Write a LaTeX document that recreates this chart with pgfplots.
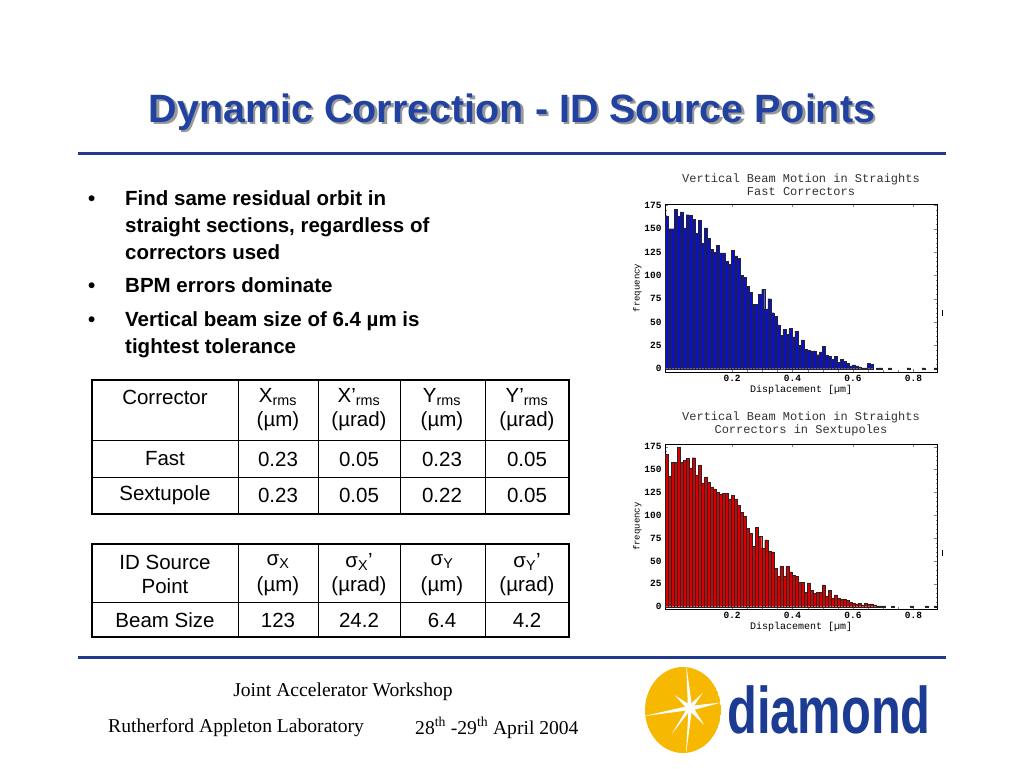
\documentclass[border=0pt]{standalone}
\usepackage{fontspec}
\setmainfont{Liberation Sans}
\setmonofont{Liberation Mono}
\newfontfamily\timesfont{Liberation Serif}
\usepackage{graphicx}
\usepackage{pgfplots}
\pgfplotsset{compat=1.18}

\definecolor{titleblue}{HTML}{2142A0}
\definecolor{rulecol}{HTML}{1F3A8F}
\definecolor{barblue}{HTML}{0A10C8}
\definecolor{barred}{HTML}{D80000}
\definecolor{logoyellow}{HTML}{F6B800}
\definecolor{logoblue}{HTML}{1C3C94}

\pgfplotsset{
  histo/.style={
    width=272pt, height=168pt, scale only axis,
    anchor=south west,
    xmin=-0.022, xmax=0.878,
    xtick={0.2,0.4,0.6,0.8}, ytick={0,25,...,175},
    minor x tick num=3, minor y tick num=4,
    tick align=inside,
    major tick length=3pt, minor tick length=1.5pt,
    axis line style={line width=0.8pt},
    /pgf/number format/assume math mode=true,
    tick label style={font=\ttfamily\bfseries\fontsize{9.5}{10}\selectfont},
    xlabel={Displacement [µm]},
    ylabel={frequency},
    xlabel style={font=\ttfamily\fontsize{10}{11}\selectfont, yshift=4pt},
    ylabel style={font=\ttfamily\fontsize{9}{10}\selectfont, yshift=-4pt},
    title style={align=center, text=black!80, font=\ttfamily\fontsize{12}{13}\selectfont, inner sep=2pt},
  },
}

\begin{document}
\begin{tikzpicture}[x=1pt,y=1pt]
\useasboundingbox[fill=white] (0,0) rectangle (1024,768);

% slide title with shadow
\node[text=black!40, font=\fontsize{39.5}{44}\selectfont\bfseries] at (514.5,653.5) {Dynamic Correction - ID Source Points};
\node[text=titleblue, font=\fontsize{39.5}{44}\selectfont\bfseries] at (512,656) {Dynamic Correction - ID Source Points};

\draw[rulecol, line width=3pt] (78,614) -- (946,614);
\draw[rulecol, line width=3pt] (78,111) -- (946,111);

% bullets
\begin{scope}[font=\fontsize{20.5}{24}\selectfont\bfseries, inner sep=0pt]
\node[anchor=base west] at (88,562) {•};
\node[anchor=base west] at (125,562) {Find same residual orbit in};
\node[anchor=base west] at (125,535) {straight sections, regardless of};
\node[anchor=base west] at (125,508) {correctors used};
\node[anchor=base west] at (88,475) {•};
\node[anchor=base west] at (125,475) {BPM errors dominate};
\node[anchor=base west] at (88,441) {•};
\node[anchor=base west] at (125,441) {Vertical beam size of 6.4 µm is};
\node[anchor=base west] at (125,414) {tightest tolerance};
\end{scope}

% table 1
\draw[line width=1pt] (238,388) -- (238,254) (318,388) -- (318,254) (400,388) -- (400,254) (485,388) -- (485,254);
\draw[line width=1pt] (92,327) -- (569,327) (92,290) -- (569,290);
\draw[line width=2.5pt] (92,388) rectangle (569,254);
\begin{scope}[font=\fontsize{20.5}{23}\selectfont]
\node at (165,371) {Corrector};
\node at (278,371) {X\textsubscript{rms}};
\node at (278,347) {(µm)};
\node at (359,371) {X’\textsubscript{rms}};
\node at (359,347) {(µrad)};
\node at (442,371) {Y\textsubscript{rms}};
\node at (442,347) {(µm)};
\node at (527,371) {Y’\textsubscript{rms}};
\node at (527,347) {(µrad)};
\node at (165,309) {Fast};
\node at (278,309) {0.23};
\node at (359,309) {0.05};
\node at (442,309) {0.23};
\node at (527,309) {0.05};
\node at (165,273) {Sextupole};
\node at (278,273) {0.23};
\node at (359,273) {0.05};
\node at (442,273) {0.22};
\node at (527,273) {0.05};
\end{scope}

% table 2
\draw[line width=1pt] (238,224) -- (238,131) (318,224) -- (318,131) (400,224) -- (400,131) (485,224) -- (485,131);
\draw[line width=1pt] (92,165) -- (569,165);
\draw[line width=2.5pt] (92,224) rectangle (569,131);
\begin{scope}[font=\fontsize{20.5}{23}\selectfont]
\node at (165,206) {ID Source};
\node at (165,182) {Point};
\node at (278,206) {σ\textsubscript{X}};
\node at (278,182) {(µm)};
\node at (359,206) {σ\textsubscript{X}’};
\node at (359,182) {(µrad)};
\node at (442,206) {σ\textsubscript{Y}};
\node at (442,182) {(µm)};
\node at (527,206) {σ\textsubscript{Y}’};
\node at (527,182) {(µrad)};
\node at (165,148) {Beam Size};
\node at (278,148) {123};
\node at (359,148) {24.2};
\node at (442,148) {6.4};
\node at (527,148) {4.2};
\end{scope}

% footer
\begin{scope}[font=\timesfont\fontsize{19.6}{22}\selectfont]
\node at (343,76) {Joint Accelerator Workshop};
\node[anchor=west, inner sep=0pt] at (108,40) {Rutherford Appleton Laboratory};
\node[anchor=west, inner sep=0pt] at (415,40) {28\textsuperscript{th} -29\textsuperscript{th} April 2004};
\end{scope}

% logo
\begin{scope}
\clip (683,58) ellipse [x radius=38, y radius=43];
\fill[logoyellow] (683,58) ellipse [x radius=38, y radius=43];
\begin{scope}[shift={(690,60)}]
\fill[white] (95:44) -- (117:5) -- (140:20) -- (165:5) -- (190:48) -- (212:5) -- (235:32) -- (250:5) -- (265:48) -- (287:5) -- (310:22) -- (340:5) -- (10:32) -- (30:5) -- (50:20) -- (72:5) -- cycle;
\end{scope}
\end{scope}
\node[anchor=base west, inner sep=0pt, text=logoblue, font=\fontsize{66}{66}\selectfont\bfseries] at (727,35) {\scalebox{0.74}[1]{diamond}};

% small marks right of the charts
\draw[line width=1pt] (942,452) -- (942,458);
\draw[line width=1pt] (942,212) -- (942,218);

% histogram 1
\begin{axis}[histo, at={(665pt,396pt)}, ymin=-3.5, ymax=176.5,
  title={Vertical Beam Motion in Straights\\Fast Correctors}]
\addplot[ybar, bar width=0.01, bar shift=0pt, fill=barblue, draw=black!85, line width=0.4pt] coordinates {
(-0.017,163) (-0.007,150) (0.003,150) (0.013,171) (0.023,163) (0.033,168) (0.043,151) (0.053,165) (0.063,164) (0.073,160)
(0.083,145) (0.093,159) (0.103,134) (0.113,151) (0.123,140) (0.133,128) (0.143,125) (0.153,132) (0.163,124) (0.173,124)
(0.183,115) (0.193,112) (0.203,127) (0.213,121) (0.223,118) (0.233,100) (0.243,98) (0.253,88) (0.263,82) (0.273,69)
(0.283,69) (0.293,80) (0.303,85) (0.313,64) (0.323,75) (0.333,60) (0.343,56) (0.353,47) (0.363,36) (0.373,42)
(0.383,37) (0.393,43) (0.403,34) (0.413,40) (0.423,25) (0.433,31) (0.443,21) (0.453,20) (0.463,19) (0.473,19)
(0.483,15) (0.493,18) (0.503,24) (0.513,14) (0.523,13) (0.533,10) (0.543,13) (0.553,7) (0.563,10) (0.573,8)
(0.583,6) (0.593,3) (0.603,4) (0.613,3) (0.623,2) (0.633,1) (0.643,1) (0.653,6) (0.663,5)
(0.683,1) (0.693,1) (0.723,1) (0.783,1) (0.833,1) (0.873,1)
};
\end{axis}

% histogram 2
\begin{axis}[histo, at={(665pt,159pt)}, height=165pt, ymin=-2.5, ymax=178,
  title={Vertical Beam Motion in Straights\\Correctors in Sextupoles}]
\addplot[ybar, bar width=0.01, bar shift=0pt, fill=barred, draw=black!85, line width=0.4pt] coordinates {
(-0.017,167) (-0.007,143) (0.003,158) (0.013,158) (0.023,174) (0.033,158) (0.043,160) (0.053,162) (0.063,151) (0.073,163)
(0.083,144) (0.093,155) (0.103,135) (0.113,142) (0.123,136) (0.133,131) (0.143,129) (0.153,125) (0.163,123) (0.173,124)
(0.183,124) (0.193,118) (0.203,122) (0.213,118) (0.223,111) (0.233,103) (0.243,99) (0.253,86) (0.263,80) (0.273,66)
(0.283,87) (0.293,77) (0.303,64) (0.313,73) (0.323,61) (0.333,60) (0.343,42) (0.353,33) (0.363,44) (0.373,33)
(0.383,44) (0.393,38) (0.403,34) (0.413,33) (0.423,27) (0.433,27) (0.443,16) (0.453,26) (0.463,18) (0.473,15)
(0.483,16) (0.493,16) (0.503,24) (0.513,11) (0.523,18) (0.533,9) (0.543,13) (0.553,9) (0.563,8) (0.573,8)
(0.583,7) (0.593,5) (0.603,4) (0.613,3) (0.623,4) (0.633,2) (0.643,4) (0.653,3) (0.663,3) (0.673,2)
(0.683,1) (0.693,1) (0.703,1) (0.733,1) (0.793,1) (0.843,1) (0.873,1)
};
\end{axis}
\end{tikzpicture}
\end{document}
